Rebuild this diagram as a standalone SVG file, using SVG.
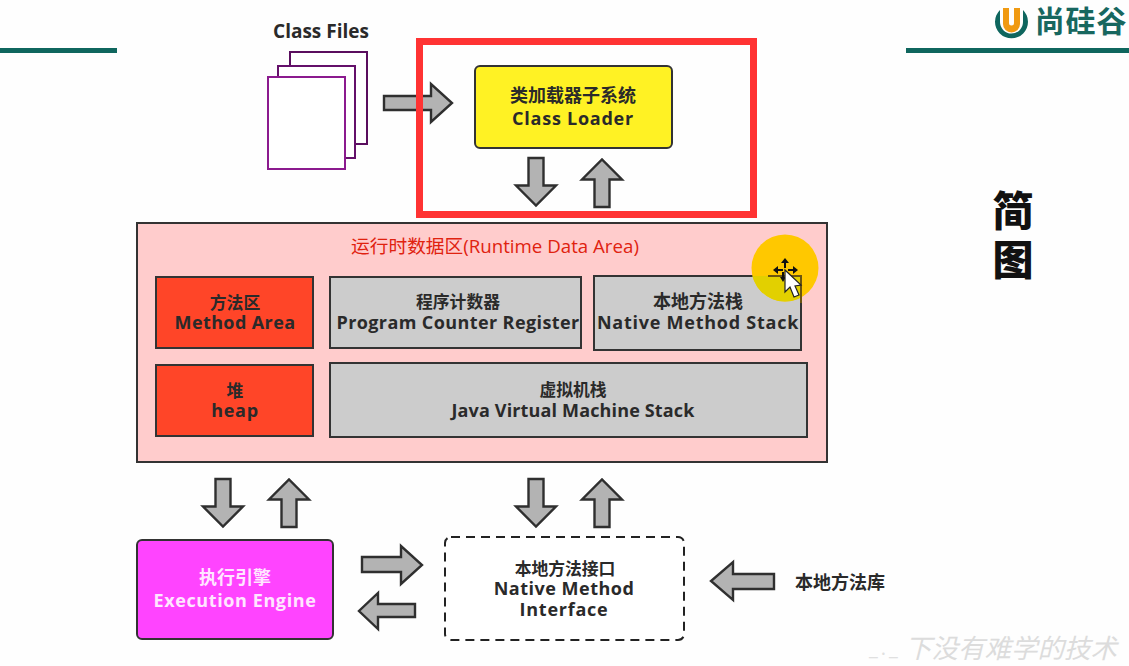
<svg xmlns="http://www.w3.org/2000/svg" width="1129" height="666" viewBox="0 0 1129 666">
<style>
text{font-family:"Open Sans","Noto Sans CJK SC",sans-serif;font-weight:600;text-anchor:middle;fill:#2a2a2a}
.cn{font-size:18px}
.cs{font-size:16.800px}
.en{font-size:18px;font-weight:700;letter-spacing:.75px}
.box{stroke:#333;stroke-width:2}
.red{fill:#ff4528}
.gray{fill:#cccccc}
.arrow{fill:#b3b3b3;stroke:#2f2f2f;stroke-width:2.4;stroke-linejoin:miter}
.file{fill:#fff;stroke:#7d1280;stroke-width:2}
.rule{fill:#0f665e}
</style>
<defs>
<polygon id="down" points="-7.5,-24 7.5,-24 7.5,3.500 20,3.500 0,23.500 -20,3.500 -7.500,3.500"/>
<polygon id="up" points="-7.5,24 7.5,24 7.5,-3.500 20,-3.500 0,-23.500 -20,-3.500 -7.500,-3.500"/>
<clipPath id="overBox"><rect x="594" y="276" width="207" height="74"/></clipPath>
</defs>
<rect width="1129" height="666" fill="#fefefe"/>

<g id="header">
<rect class="rule" x="0" y="48" width="117" height="5"/>
<rect class="rule" x="906" y="48" width="223" height="5"/>
<path d="M1000 10 A16.500 16.500 0 1 0 1023 10 L1023 22 A11.500 11.500 0 1 1 1000 22Z" fill="#0f665e"/>
<path d="M1003 8h6v15a2.500 2.500 0 0 0 5 0V8h6v16a8.500 8.500 0 0 1-17 0Z" fill="#f09a12"/>
<text x="1081" y="32" style="font-size:30px;font-weight:700;fill:#17675f;letter-spacing:.8px">尚硅谷</text>
<text x="1013" y="226" style="font-size:41px;font-weight:800;fill:#111">简</text>
<text x="1013" y="275" style="font-size:41px;font-weight:800;fill:#111">图</text>
</g>

<g id="class-files">
<text x="321" y="38" style="font-size:19px;font-weight:700">Class Files</text>
<rect class="file" x="290" y="52" width="77" height="92" style="stroke:#5a0e5e"/>
<rect class="file" x="278" y="66" width="77" height="92" style="stroke:#64106a"/>
<rect class="file" x="268" y="77" width="77" height="92" style="stroke:#8b1a8e"/>
</g>

<g id="class-loader">
<rect class="box" x="475" y="66" width="197" height="82" rx="5" fill="#fff224"/>
<text class="cn" x="573" y="102">类加载器子系统</text>
<text class="en" x="573" y="125">Class Loader</text>
</g>

<g id="runtime-data-area">
<rect x="137" y="223" width="690" height="239" fill="#ffcccc" stroke="#333" stroke-width="2"/>
<text x="495" y="253" style="font-size:18.700px;font-weight:400;fill:#e0220f">运行时数据区(Runtime Data Area)</text>
</g>
<g id="method-area">
<rect class="box red" x="156" y="277" width="157" height="71"/>
<text class="cs" x="235" y="309">方法区</text>
<text class="en" x="235" y="329" style="letter-spacing:.4px">Method Area</text>
</g>
<g id="program-counter">
<rect class="box gray" x="330" y="277" width="251" height="71"/>
<text class="cs" x="458" y="308">程序计数器</text>
<text class="en" x="458" y="329" style="letter-spacing:.4px">Program Counter Register</text>
</g>
<g id="native-method-stack">
<rect class="box gray" x="594" y="276" width="207" height="74"/>
<text class="cn" x="698" y="308">本地方法栈</text>
<text class="en" x="698" y="329">Native Method Stack</text>
</g>
<g id="heap">
<rect class="box red" x="156" y="365" width="157" height="71"/>
<text class="cs" x="235" y="397">堆</text>
<text class="en" x="235" y="417">heap</text>
</g>
<g id="java-vm-stack">
<rect class="box gray" x="330" y="363" width="477" height="74"/>
<text class="cs" x="573" y="396">虚拟机栈</text>
<text class="en" x="573" y="417" style="letter-spacing:.15px">Java Virtual Machine Stack</text>
</g>

<g id="execution-engine">
<rect class="box" x="137" y="540" width="196" height="99" rx="5" fill="#ff44ff"/>
<text class="cn" x="235" y="584" style="fill:#ffe6ff">执行引擎</text>
<text class="en" x="235" y="607" style="fill:#ffe6ff;letter-spacing:.6px">Execution Engine</text>
</g>
<g id="native-interface">
<rect x="445" y="537" width="239" height="103" rx="6" fill="#fff" stroke="#222" stroke-width="2" stroke-dasharray="9 6"/>
<text class="cs" x="565" y="575">本地方法接口</text>
<text class="en" x="564" y="595" style="letter-spacing:.5px">Native Method</text>
<text class="en" x="564" y="616">Interface</text>
</g>
<g id="native-library">
<text x="840" y="589" style="font-size:18px">本地方法库</text>
</g>

<g id="connectors">
<polygon class="arrow" points="384,96 431,96 431,84 452,103 431,122 431,110 384,110"/>
<use class="arrow" href="#down" x="536" y="182"/>
<use class="arrow" href="#up" x="602" y="183"/>
<use class="arrow" href="#down" x="223" y="503"/>
<use class="arrow" href="#up" x="289" y="503"/>
<use class="arrow" href="#down" x="536" y="503"/>
<use class="arrow" href="#up" x="602" y="503"/>
<polygon class="arrow" points="362,557 401,557 401,546 422,565 401,584 401,572 362,572"/>
<polygon class="arrow" points="415,604 378,604 378,593 359,611 378,629 378,617 415,617"/>
<polygon class="arrow" points="774,574 733,574 733,562 711,581 733,600 733,589 774,589"/>
</g>

<rect id="highlight" x="419.500" y="41.500" width="334" height="173" fill="none" stroke="#ff3333" stroke-width="7"/>

<g id="cursor">
<circle cx="785" cy="268" r="33.500" fill="#ffc800"/>
<circle cx="785" cy="268" r="33.500" fill="#e2d000" clip-path="url(#overBox)"/>
<path d="M768 276H801V303" fill="none" stroke="#6b5510" stroke-width="2"/>
<path d="M785 258l4 5h-3v5h-2v-5h-3ZM773 270l5-4v3h5v2h-5v3ZM798 270l-5-4v3h-5v2h5v3ZM783 282l-3-5h2v-5h2v5h2Z" fill="#111"/>
<path d="M785 270V292L790 287L794 297L799 295L795 286L801 285Z" fill="#fff" stroke="#222" stroke-width="1.200"/>
</g>

<g id="watermark">
<text x="1011" y="658" style="font-size:26.500px;font-weight:400;fill:#dcdcdc;font-style:italic">下没有难学的技术</text>
<text x="885" y="655" style="font-size:20px;font-weight:400;fill:#e0e0e0;letter-spacing:3px">_._</text>
</g>
</svg>
